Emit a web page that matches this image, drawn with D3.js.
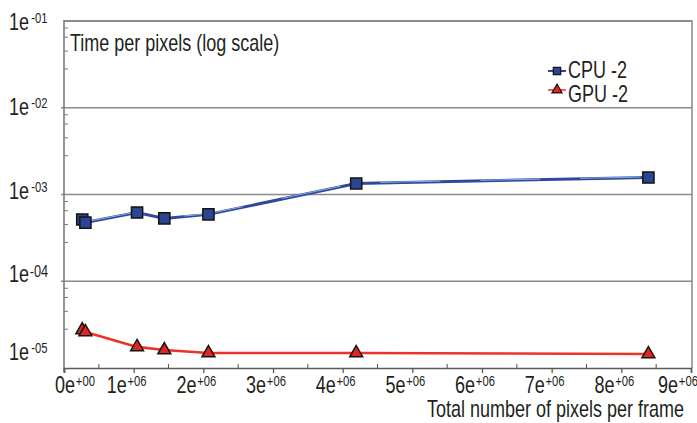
<!DOCTYPE html>
<html><head><meta charset="utf-8">
<script src="https://cdn.jsdelivr.net/npm/d3@7"></script>
<style>html,body{margin:0;padding:0;background:#fff;} svg{display:block}</style>
</head><body>
<svg id="chart" width="697" height="423"></svg>
<script>
// ---- data ----
const xValues = [262144, 307200, 1048576, 1440000, 2073600, 4194304, 8388608];
const cpuValues = [5.15e-4, 4.75e-4, 6.2e-4, 5.3e-4, 5.9e-4, 1.34e-3, 1.57e-3];
const gpuValues = [2.74e-5, 2.6e-5, 1.75e-5, 1.61e-5, 1.49e-5, 1.49e-5, 1.45e-5];
const seriesNames = ["CPU -2", "GPU -2"];
const xTickValues = [0, 1e6, 2e6, 3e6, 4e6, 5e6, 6e6, 7e6, 8e6, 9e6];
const xTickMantissa = ["0", "1", "2", "3", "4", "5", "6", "7", "8", "9"];
const xTickExponent = ["+00", "+06", "+06", "+06", "+06", "+06", "+06", "+06", "+06", "+06"];
const yTickValues = [1e-1, 1e-2, 1e-3, 1e-4, 1e-5];
const yTickExponent = ["-01", "-02", "-03", "-04", "-05"];
const yMinorFactors = [0.83, 0.65, 0.45, 0.28];
const yTitle = "Time per pixels (log scale)";
const xTitle = "Total number of pixels per frame";

// ---- font detection ----
function hasFont(name) {
  const c = document.createElement("canvas").getContext("2d");
  const s = "abcdefghijklmnopqrstuvwxyz0123456789ABCDEF";
  c.font = "40px monospace"; const a = c.measureText(s).width;
  c.font = `40px "${name}", monospace`; const b = c.measureText(s).width;
  return Math.abs(a - b) > 0.5;
}
const narrow = hasFont("Liberation Sans Narrow");
const FONT = narrow ? "'Liberation Sans Narrow', 'Liberation Sans', sans-serif" : "'Liberation Sans', Arial, sans-serif";
const SX = narrow ? 0.91 : 0.75;
const FS = 24, FS_EXP = 15;
const TXT = "#231f20";

const svg = d3.select("#chart");
const L = 64, R = 692, T = 21, B = 368;
const x = d3.scaleLinear().domain([0, 9e6]).range([L, 691]);
const y = d3.scaleLog().domain([1e-5, 1e-1]).range([B, T]);

function label(px, py, anchor, size) {
  const g = svg.append("g").attr("transform", `translate(${px},${py}) scale(${SX},1)`);
  return g.append("text").attr("text-anchor", anchor)
    .attr("font-family", FONT).attr("font-size", size).attr("fill", TXT);
}

// frame: top + right
svg.append("line").attr("x1", L).attr("x2", R).attr("y1", T).attr("y2", T)
  .attr("stroke", "#8c8c8c").attr("stroke-width", 2);
svg.append("line").attr("x1", R).attr("x2", R).attr("y1", T - 1).attr("y2", B)
  .attr("stroke", "#a5a5a8").attr("stroke-width", 2);

// gridlines
svg.append("g").selectAll("line").data(yTickValues.slice(1, 4)).join("line")
  .attr("x1", L - 3).attr("x2", R).attr("y1", d => y(d)).attr("y2", d => y(d))
  .attr("stroke", "#8a8a8a").attr("stroke-width", 1.6);

// y minor ticks (inside)
const minor = [];
yTickValues.slice(0, 4).forEach(d => yMinorFactors.forEach(f => minor.push(d * f)));
svg.append("g").selectAll("line").data(minor).join("line")
  .attr("x1", L).attr("x2", L + 4).attr("y1", d => y(d)).attr("y2", d => y(d))
  .attr("stroke", "#7a7a7a").attr("stroke-width", 1);

// left axis
svg.append("line").attr("x1", L).attr("x2", L).attr("y1", T - 1).attr("y2", B + 4)
  .attr("stroke", "#7a7a7a").attr("stroke-width", 1.6);

// bottom axis with d3 axis (major ticks down)
const xAxis = svg.append("g").attr("transform", `translate(0,${B})`)
  .call(d3.axisBottom(x).tickValues(xTickValues).tickSize(5).tickFormat(""));
xAxis.select(".domain").attr("stroke", "#5a5a5a").attr("stroke-width", 1.6);
xAxis.selectAll(".tick line").attr("stroke", "#5a5a5a").attr("stroke-width", 1.3);
// x minor ticks (inside, half steps)
svg.append("g").selectAll("line").data(d3.range(0.5e6, 9e6, 1e6)).join("line")
  .attr("x1", d => x(d)).attr("x2", d => x(d)).attr("y1", B).attr("y2", B - 4)
  .attr("stroke", "#5a5a5a").attr("stroke-width", 1.1);

// x tick labels
const xLabelShift = i => (i === 0 ? 11 : i === 9 ? -13 : -7);
xTickValues.forEach((v, i) => {
  const t = label(x(v) + xLabelShift(i), 393, "middle", FS);
  t.append("tspan").text(xTickMantissa[i] + "e");
  t.append("tspan").attr("font-size", FS_EXP).attr("dy", -7).attr("dx", 1).text(xTickExponent[i]);
});

// y tick labels
const yLabelShift = [9, 7, 4, 1, -8];
const yExpSize = [FS_EXP, FS_EXP, FS_EXP, 17, FS_EXP];
yTickValues.forEach((v, i) => {
  const t = label(9, y(v) + yLabelShift[i], "start", FS);
  t.append("tspan").text("1e");
  t.append("tspan").attr("font-size", yExpSize[i]).attr("dy", i === 3 ? -5 : -7)
    .attr("dx", i === 3 ? 1 : 3).text(yTickExponent[i]);
});

// titles
label(70, 51, "start", FS).text(yTitle);
label(684, 417, "end", FS).text(xTitle);

// ---- series ----
const cpuPts = xValues.map((v, i) => [v, cpuValues[i]]);
const gpuPts = xValues.map((v, i) => [v, gpuValues[i]]);
const line = d3.line().x(d => x(d[0])).y(d => y(d[1]));
const cpuLinePts = cpuPts.slice(1);

svg.append("path").attr("d", line(cpuLinePts)).attr("fill", "none")
  .attr("stroke", "#33479a").attr("stroke-width", 3);
svg.append("path").attr("d", line(cpuLinePts)).attr("fill", "none")
  .attr("stroke", "#7fb0e8").attr("stroke-width", 1).attr("transform", "translate(0,-0.6)")
  .attr("stroke-dasharray", "60,40");
svg.append("path").attr("d", line(gpuPts.slice(1))).attr("fill", "none")
  .attr("stroke", "#ec3329").attr("stroke-width", 2.6);

// markers
const sq = d3.symbol().type(d3.symbolSquare).size(125);
const tri = d3.symbol().type(d3.symbolTriangle).size(72);
svg.append("g").selectAll("path").data(cpuPts).join("path")
  .attr("d", sq).attr("transform", d => `translate(${x(d[0])},${y(d[1])})`)
  .attr("fill", "#2b4593").attr("stroke", "#141414").attr("stroke-width", 1.5);
svg.append("g").selectAll("path").data(gpuPts).join("path")
  .attr("d", tri).attr("transform", d => `translate(${x(d[0])},${y(d[1])})`)
  .attr("fill", "#e0261f").attr("stroke", "#141414").attr("stroke-width", 1.5);

// ---- legend ----
const legY = [71, 90];
const legColors = ["#33479a", "#f26660"];
seriesNames.forEach((name, i) => {
  svg.append("line").attr("x1", 548).attr("x2", 566).attr("y1", legY[i]).attr("y2", legY[i])
    .attr("stroke", legColors[i]).attr("stroke-width", 2);
  svg.append("path").attr("d", i === 0 ? d3.symbol().type(d3.symbolSquare).size(55)() : d3.symbol().type(d3.symbolTriangle).size(45)())
    .attr("transform", `translate(557,${legY[i]})`)
    .attr("fill", i === 0 ? "#2b4593" : "#e0261f").attr("stroke", "#141414").attr("stroke-width", 1.2);
  label(568, legY[i] + 7 + i * 5, "start", FS).text(name);
});
</script>
</body></html>
